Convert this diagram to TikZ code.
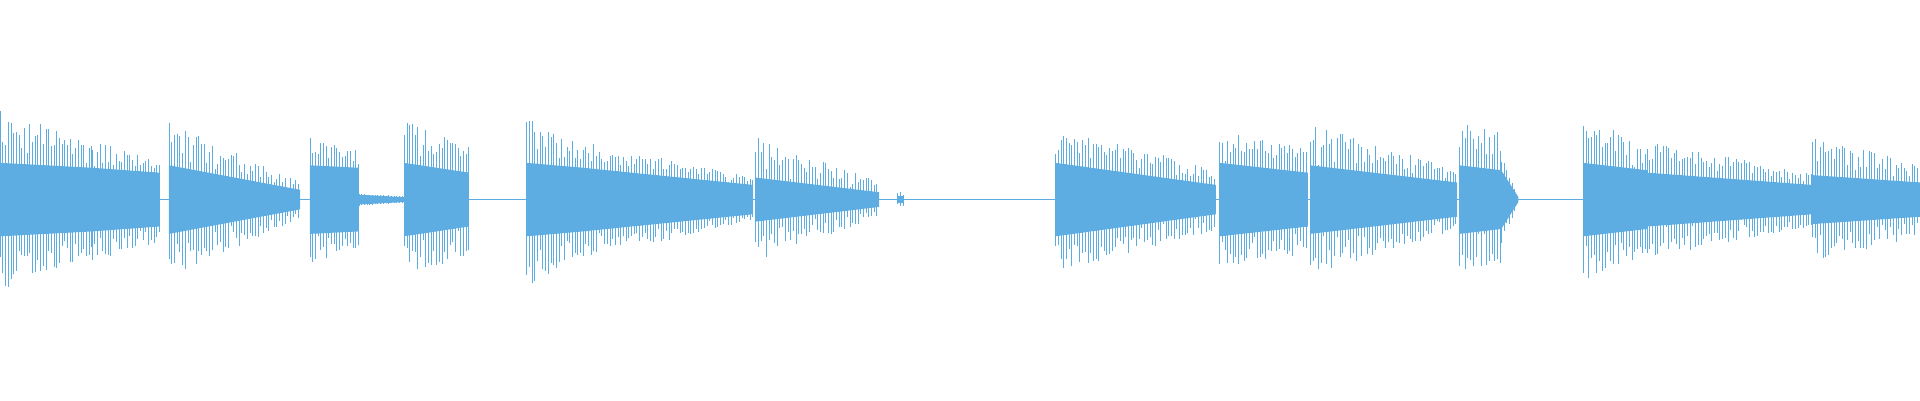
\documentclass[tikz,border=0pt]{standalone}
\definecolor{wave}{RGB}{93,172,226}
\newcommand{\wseg}[6]{%
  \fill[wave] (#1,-#3)--(#1,#3)--(#2,#4)--(#2,-#4)--cycle;
  \pgfmathtruncatemacro{\nn}{(#2-#1)/2.2}
  \foreach \i in {0,...,\nn}{
    \pgfmathsetmacro{\t}{\i/max(\nn,1)}
    \pgfmathsetmacro{\xx}{#1+\i*2.2}
    \pgfmathsetmacro{\cc}{#3+(#4-#3)*\t}
    \pgfmathsetmacro{\ss}{#5+(#6-#5)*\t}
    \pgfmathsetmacro{\hu}{\cc+sqrt(rnd)*(\ss-\cc)}
    \pgfmathsetmacro{\hd}{\cc+sqrt(rnd)*(\ss-\cc)}
    \draw[wave,line width=0.45pt] (\xx,-\hd)--(\xx,\hu);
  }}
\begin{document}
\begin{tikzpicture}[x=1pt,y=1pt]
\pgfmathsetseed{7}
\useasboundingbox (0,-164) rectangle (1568,163);
\draw[wave,line width=0.5pt] (0,0)--(1568,0);
\wseg{0}{75}{30}{26}{75}{45}
\wseg{75}{130}{26}{22}{50}{35}
\wseg{138}{245}{28}{8}{65}{15}
\wseg{253}{293}{28}{26}{52}{40}
\wseg{293}{330}{4}{2}{5}{3}
\wseg{330}{383}{30}{22}{65}{45}
\wseg{430}{476}{30}{26}{72}{45}
\wseg{476}{615}{26}{12}{48}{18}
\wseg{617}{718}{18}{6}{52}{15}
\wseg{733}{738}{3}{3}{8}{5}
\wseg{862}{993}{30}{12}{60}{25}
\wseg{996}{1068}{30}{22}{55}{45}
\wseg{1070}{1190}{28}{14}{62}{25}
\wseg{1192}{1226}{28}{24}{65}{55}
\wseg{1226}{1240}{24}{2}{40}{3}
\wseg{1293}{1345}{30}{24}{68}{45}
\wseg{1345}{1480}{22}{12}{48}{22}
\wseg{1480}{1568}{20}{14}{52}{30}
\end{tikzpicture}
\end{document}
